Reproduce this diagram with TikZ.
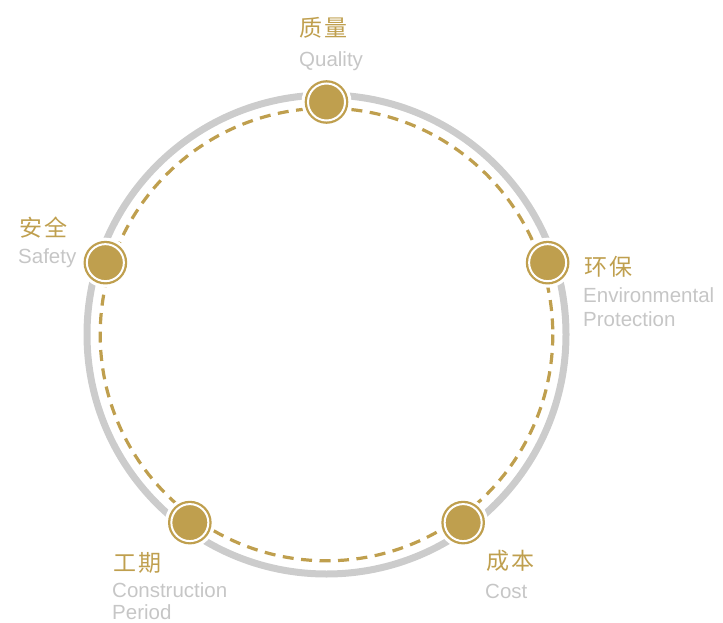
\documentclass[tikz,border=0pt]{standalone}
\usepackage{fontspec}
\usetikzlibrary{calc}
\setmainfont{Liberation Sans}
\newfontfamily\cjk{Noto Sans CJK SC}
\definecolor{gold}{HTML}{BF9F4E}
\definecolor{ringgray}{HTML}{CCCCCC}
\definecolor{txtgray}{HTML}{C6C6C6}
\begin{document}
\begin{tikzpicture}[x=1pt,y=-1pt,
  ring/.style={draw=ringgray,line width=7pt},
  dashring/.style={draw=gold,line width=3.2pt,dash pattern=on 11pt off 7.5pt},
  halo/.style={fill=white},
  dot/.style={circle,inner sep=0pt,minimum size=37pt,fill=gold,draw=gold,double=white,double distance=2pt,line width=2.3pt},
  cn/.style={font=\cjk\fontsize{23}{27}\selectfont,text=gold,inner sep=0pt},
  en/.style={font=\fontsize{20.5}{24}\selectfont,text=txtgray,inner sep=0pt,align=left},
]
\useasboundingbox (0,0) rectangle (723,623);
\coordinate (c) at (326.5,334.5);
\draw[ring] (c) circle (239.5);
\draw[dashring] (c) circle (226.3);
\foreach \n/\a in {q/90,s/162,e/18,p/234,k/306}{
  \coordinate (\n c) at ($(c)+(\a:232.5 and -232.5)$);
}
\foreach \n in {qc,sc,ec,pc,kc}{\fill[halo] (\n) circle (25);}
\node[dot] (q) at (qc) {};
\node[dot] (s) at (sc) {};
\node[dot] (e) at (ec) {};
\node[dot] (p) at (pc) {};
\node[dot] (k) at (kc) {};
% labels
\node[cn,anchor=west] (qcn) at (299,28) {质\hspace{2pt}量};
\node[en,anchor=base west] (qen) at (299,67) {Quality};
\node[cn,anchor=west] (scn) at (19,228) {安\hspace{2pt}全};
\node[en,anchor=base west] (sen) at (18,263) {Safety};
\node[cn,anchor=west] (ecn) at (584,267) {环\hspace{2pt}保};
\node[en,anchor=base west] (een) at (583,302) {Environmental};
\node[en,anchor=base west] (een2) at (583,326) {Protection};
\node[cn,anchor=west] (pcn) at (113,563) {工\hspace{2pt}期};
\node[en,anchor=base west] (pen) at (112,597) {Construction};
\node[en,anchor=base west] (pen2) at (112,619) {Period};
\node[cn,anchor=west] (kcn) at (486,561) {成\hspace{2pt}本};
\node[en,anchor=base west] (ken) at (485,598) {Cost};
\end{tikzpicture}
\end{document}
